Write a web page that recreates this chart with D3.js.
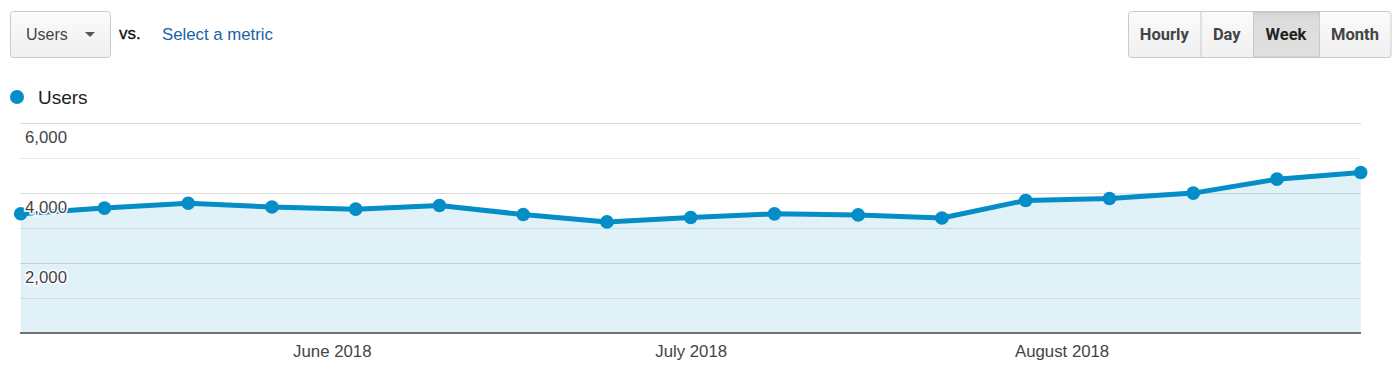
<!DOCTYPE html>
<html>
<head>
<meta charset="utf-8">
<script src="https://cdn.jsdelivr.net/npm/d3@7"></script>
<style>
  body { margin: 0; background: #fff; }
  svg { display: block; font-family: Arial, "Liberation Sans", sans-serif; }
</style>
</head>
<body>
<svg id="chart" width="1400" height="365"></svg>
<script>
// weekly data (week starting)
var weeks = ["2018-05-06", "2018-05-13", "2018-05-20", "2018-05-27", "2018-06-03",
  "2018-06-10", "2018-06-17", "2018-06-24", "2018-07-01", "2018-07-08",
  "2018-07-15", "2018-07-22", "2018-07-29", "2018-08-05", "2018-08-12",
  "2018-08-19", "2018-08-26"];
var users = [3410, 3570, 3710, 3600, 3540, 3645, 3385, 3175, 3300, 3405,
  3375, 3285, 3790, 3845, 4000, 4400, 4590];
var yTicks = [2000, 4000, 6000];
var yGrid = [1000, 2000, 3000, 4000, 5000, 6000];
var monthTicks = ["2018-06-01", "2018-07-01", "2018-08-01"];
var periods = ["Hourly", "Day", "Week", "Month"];
var activePeriod = "Week";

var parse = d3.timeParse("%Y-%m-%d");
var data = weeks.map(function(w, i) {
  return { date: parse(w), value: users[i] };
});

var svg = d3.select("#chart");
var blue = "#058dc7";

var defs = svg.append("defs");
var grad = defs.append("linearGradient").attr("id", "btn").attr("x1", 0).attr("x2", 0).attr("y1", 0).attr("y2", 1);
grad.append("stop").attr("offset", "0%").attr("stop-color", "#fbfbfb");
grad.append("stop").attr("offset", "100%").attr("stop-color", "#f0f0f0");
var gradOn = defs.append("linearGradient").attr("id", "btnOn").attr("x1", 0).attr("x2", 0).attr("y1", 0).attr("y2", 1);
gradOn.append("stop").attr("offset", "0%").attr("stop-color", "#d2d2d2");
gradOn.append("stop").attr("offset", "15%").attr("stop-color", "#dcdcdc");
gradOn.append("stop").attr("offset", "100%").attr("stop-color", "#e0e0e0");

// ---- header: metric dropdown
svg.append("rect")
  .attr("x", 10.5).attr("y", 11.5).attr("width", 100).attr("height", 46)
  .attr("rx", 3).attr("fill", "url(#btn)").attr("stroke", "#cacaca");
svg.append("text").attr("x", 26).attr("y", 40)
  .attr("font-size", "16px").attr("fill", "#444").text("Users");
svg.append("path").attr("d", "M85,32L95,32L90,37Z").attr("fill", "#555");

svg.append("text").attr("x", 119).attr("y", 39)
  .attr("font-size", "17px").attr("fill", "#111").attr("stroke", "#111").attr("stroke-width", 0.3)
  .text("vs.");
svg.append("text").attr("x", 162).attr("y", 40)
  .attr("font-size", "16.8px").attr("fill", "#1a62a8").text("Select a metric");

// ---- header: period buttons
var btnEdges = [1128, 1200.5, 1253, 1319, 1391];
var btnX = d3.scaleOrdinal().domain(periods).range(btnEdges.slice(0, 4));

svg.append("rect")
  .attr("x", 1128.5).attr("y", 11.5).attr("width", 262.5).attr("height", 46)
  .attr("rx", 3).attr("fill", "url(#btn)").attr("stroke", "#cacaca");

var btn = svg.selectAll(".period")
  .data(periods).enter()
  .append("g")
  .attr("class", "period");

btn.filter(function(d) { return d == activePeriod; })
  .append("rect")
  .attr("x", function(d, i) { return btnEdges[periods.indexOf(d)] + 0.5; })
  .attr("y", 12)
  .attr("width", function(d) { var i = periods.indexOf(d); return btnEdges[i + 1] - btnEdges[i]; })
  .attr("height", 45)
  .attr("fill", "url(#btnOn)")
  .attr("stroke", "#c4c4c4")
  .attr("stroke-width", 1);

btn.filter(function(d, i) { return i > 0; })
  .append("line")
  .attr("x1", function(d) { return btnX(d) + 0.5; })
  .attr("x2", function(d) { return btnX(d) + 0.5; })
  .attr("y1", 12).attr("y2", 57)
  .attr("stroke", "#cacaca");

btn.append("text")
  .attr("x", function(d, i) { return (btnEdges[i] + btnEdges[i + 1]) / 2; })
  .attr("y", 40)
  .attr("text-anchor", "middle")
  .attr("font-family", "Roboto, Arial, sans-serif")
  .attr("font-weight", 700)
  .attr("font-size", "16.5px")
  .attr("fill", function(d) { return d == activePeriod ? "#222" : "#444"; })
  .text(function(d) { return d; });

// ---- legend
svg.append("circle").attr("cx", 17).attr("cy", 97).attr("r", 7).attr("fill", blue);
svg.append("text").attr("x", 38).attr("y", 104)
  .attr("font-size", "19px").attr("fill", "#222").text("Users");

// ---- chart
var x = d3.scaleTime()
  .domain(d3.extent(data, function(d) { return d.date; }))
  .range([20.7, 1360.7]);
var y = d3.scaleLinear().domain([0, 6000]).range([332.7, 123.3]);

var plot = svg.append("g");

plot.selectAll(".grid")
  .data(yGrid).enter()
  .append("line")
  .attr("class", "grid")
  .attr("x1", 20).attr("x2", 1361)
  .attr("y1", function(d) { return Math.round(y(d)) + 0.5; })
  .attr("y2", function(d) { return Math.round(y(d)) + 0.5; })
  .attr("stroke", function(d) { return d % 2000 == 0 ? "#e4e4e4" : "#efefef"; });

var area = d3.area()
  .x(function(d) { return x(d.date); })
  .y0(y(0))
  .y1(function(d) { return y(d.value); });

plot.append("path")
  .datum(data)
  .attr("d", area)
  .attr("fill", "#058dc7")
  .attr("fill-opacity", 0.12);

plot.selectAll(".grid2")
  .data(yGrid).enter()
  .append("line")
  .attr("x1", 20).attr("x2", 1361)
  .attr("y1", function(d) { return Math.round(y(d)) + 0.5; })
  .attr("y2", function(d) { return Math.round(y(d)) + 0.5; })
  .attr("stroke", "#000")
  .attr("stroke-opacity", 0.03);

var line = d3.line()
  .x(function(d) { return x(d.date); })
  .y(function(d) { return y(d.value); });

plot.append("path")
  .datum(data)
  .attr("d", line)
  .attr("fill", "none")
  .attr("stroke", blue)
  .attr("stroke-width", 5)
  .attr("stroke-linejoin", "round");

plot.selectAll(".dot")
  .data(data).enter()
  .append("circle")
  .attr("class", "dot")
  .attr("cx", function(d) { return x(d.date); })
  .attr("cy", function(d) { return y(d.value); })
  .attr("r", 6.8)
  .attr("fill", blue);

// baseline
plot.append("line")
  .attr("x1", 20).attr("x2", 1361)
  .attr("y1", 333).attr("y2", 333)
  .attr("stroke", "#444").attr("stroke-width", 1.5);

// x axis
var xAxis = svg.append("g")
  .attr("transform", "translate(0," + 333 + ")")
  .call(d3.axisBottom(x)
    .tickValues(monthTicks.map(parse))
    .tickSize(0)
    .tickPadding(12)
    .tickFormat(d3.timeFormat("%B %Y")));
xAxis.select(".domain").remove();
xAxis.selectAll("text")
  .attr("font-family", "Arial, 'Liberation Sans', sans-serif")
  .attr("font-size", "16.8px")
  .attr("fill", "#444");

// y axis labels (sit just below their gridline)
var yAxis = svg.append("g")
  .attr("transform", "translate(20,0)")
  .call(d3.axisRight(y)
    .tickValues(yTicks)
    .tickSize(0)
    .tickPadding(5)
    .tickFormat(d3.format(",")));
yAxis.select(".domain").remove();
yAxis.selectAll("text")
  .attr("dy", "1.15em")
  .attr("font-family", "Arial, 'Liberation Sans', sans-serif")
  .attr("font-size", "16.8px")
  .attr("fill", "#444")
  .attr("stroke", "#fff")
  .attr("stroke-width", 3)
  .attr("paint-order", "stroke");
</script>
</body>
</html>
